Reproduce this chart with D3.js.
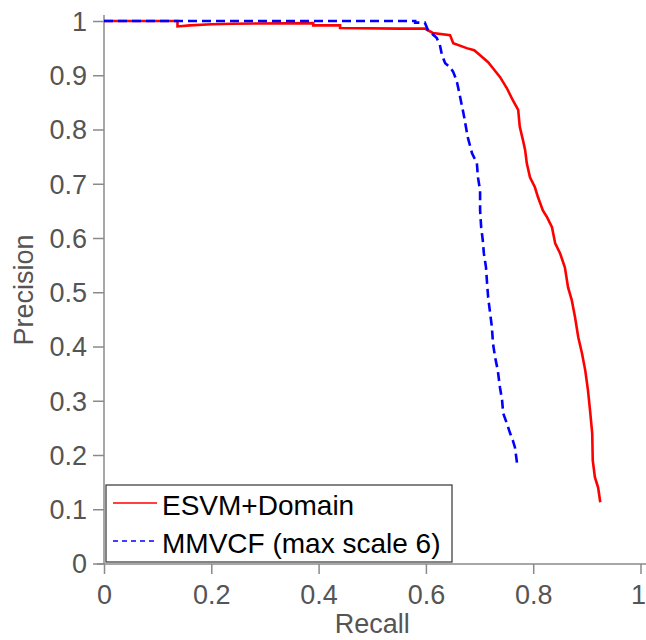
<!DOCTYPE html>
<html>
<head>
<meta charset="utf-8">
<script src="https://cdn.jsdelivr.net/npm/d3@7"></script>
<style>
  body { margin: 0; background: #fff; }
  svg { display: block; font-family: "Liberation Sans", Arial, sans-serif; }
</style>
</head>
<body>
<svg id="chart"></svg>
<script>
// recall / precision pairs
const esvmRecall = [0, 0.137, 0.137, 0.16, 0.2, 0.24, 0.39, 0.39, 0.44, 0.44, 0.55, 0.598, 0.613, 0.645, 0.651, 0.676,
    0.69, 0.701, 0.716, 0.725, 0.738, 0.751, 0.762, 0.772, 0.775, 0.781, 0.785, 0.788, 0.794, 0.803, 0.809, 0.818,
    0.826, 0.835, 0.841, 0.85, 0.859, 0.865, 0.872, 0.878, 0.884, 0.891, 0.897, 0.902, 0.906, 0.91, 0.911, 0.915,
    0.921, 0.925];
const esvmPrecision = [1, 1, 0.99, 0.992, 0.994, 0.995, 0.996, 0.992, 0.992, 0.987, 0.986, 0.986, 0.978, 0.974, 0.959, 0.95,
    0.946, 0.937, 0.924, 0.913, 0.897, 0.876, 0.854, 0.836, 0.805, 0.78, 0.762, 0.738, 0.712, 0.694, 0.675, 0.651,
    0.638, 0.62, 0.59, 0.572, 0.546, 0.509, 0.485, 0.454, 0.417, 0.387, 0.356, 0.32, 0.282, 0.24, 0.19, 0.159,
    0.14, 0.113];

const mmvcfRecall = [0, 0.58, 0.58, 0.598, 0.604, 0.62, 0.626, 0.63, 0.636, 0.645, 0.651, 0.657, 0.66, 0.665, 0.67, 0.678,
    0.686, 0.695, 0.697, 0.701, 0.701, 0.703, 0.706, 0.708, 0.712, 0.714, 0.716, 0.719, 0.723, 0.725, 0.729, 0.734,
    0.738, 0.742, 0.744, 0.751, 0.757, 0.762, 0.766, 0.77];
const mmvcfPrecision = [1, 1, 0.997, 0.997, 0.983, 0.969, 0.956, 0.937, 0.922, 0.915, 0.906, 0.891, 0.878, 0.854, 0.83, 0.786,
    0.756, 0.738, 0.712, 0.688, 0.651, 0.62, 0.596, 0.572, 0.546, 0.517, 0.491, 0.467, 0.436, 0.406, 0.38, 0.356,
    0.325, 0.301, 0.277, 0.258, 0.24, 0.227, 0.214, 0.184];

const xTicks = [0, 0.2, 0.4, 0.6, 0.8, 1];
const xTickLabels = ['0', '0.2', '0.4', '0.6', '0.8', '1'];
const yTicks = [0, 0.1, 0.2, 0.3, 0.4, 0.5, 0.6, 0.7, 0.8, 0.9, 1];
const yTickLabels = ['0', '0.1', '0.2', '0.3', '0.4', '0.5', '0.6', '0.7', '0.8', '0.9', '1'];

const seriesNames = ['ESVM+Domain', 'MMVCF (max scale 6)'];

const width = 646, height = 640;
const margin = { top: 21, right: 5.5, bottom: 76, left: 104 };

const svg = d3.select('#chart')
    .attr('width', width)
    .attr('height', height);

const inner_width = width - margin.left - margin.right;
const inner_height = height - margin.top - margin.bottom;

const chart = svg.append('g')
    .attr('transform', `translate(${margin.left}, ${margin.top})`);

const xscale = d3.scaleLinear().domain([0, 1]).range([0, inner_width]);
const yscale = d3.scaleLinear().domain([0, 1]).range([inner_height - 0.5, 0]);

const axisColor = '#8a8a8a';
const textColor = '#555';

const xaxis = d3.axisBottom(xscale)
    .tickValues(xTicks)
    .tickFormat((d, i) => xTickLabels[i])
    .tickSize(10)
    .tickSizeOuter(0)
    .tickPadding(4);

const yaxis = d3.axisLeft(yscale)
    .tickValues(yTicks)
    .tickFormat((d, i) => yTickLabels[i])
    .tickSize(11)
    .tickSizeOuter(0)
    .tickPadding(6);

const xaxis_group = chart.append('g')
    .attr('transform', `translate(0, ${inner_height})`)
    .call(xaxis);
xaxis_group.select('.domain').attr('d', `M-7,0H${inner_width + 10}`);

const yaxis_group = chart.append('g')
    .call(yaxis);
yaxis_group.select('.domain').attr('d', `M0,-6V${inner_height}`);

[xaxis_group, yaxis_group].forEach(g => {
    g.selectAll('.domain').attr('stroke', axisColor).attr('stroke-width', 1.5);
    g.selectAll('.tick line').attr('stroke', axisColor).attr('stroke-width', 1.5);
    g.selectAll('.tick text')
        .attr('fill', textColor)
        .style('font-size', '27px')
        .style('font-family', '"Liberation Sans", Arial, sans-serif');
});
yaxis_group.selectAll('.tick text').attr('dy', '0.35em');
xaxis_group.selectAll('.tick text').attr('dy', '0.95em');
// keep the last x label inside the page
xaxis_group.selectAll('.tick text').filter(d => d === 1).attr('dx', -2.5);

// curves
const line = d3.line()
    .x(d => xscale(d[0]))
    .y(d => yscale(d[1]));

const esvm = d3.zip(esvmRecall, esvmPrecision);
const mmvcf = d3.zip(mmvcfRecall, mmvcfPrecision);

chart.append('path')
    .attr('d', line(esvm))
    .attr('fill', 'none')
    .attr('stroke', '#ff0000')
    .attr('stroke-width', 2.6)
    .attr('stroke-linejoin', 'miter');

chart.append('path')
    .attr('d', line(mmvcf))
    .attr('fill', 'none')
    .attr('stroke', '#0000ff')
    .attr('stroke-width', 2.6)
    .attr('stroke-dasharray', '9,5');

// axis labels
svg.append('text')
    .attr('x', margin.left + inner_width / 2)
    .attr('y', 633)
    .attr('text-anchor', 'middle')
    .attr('fill', textColor)
    .style('font-size', '27px')
    .text('Recall');

svg.append('text')
    .attr('transform', `translate(33, 290) rotate(-90)`)
    .attr('text-anchor', 'middle')
    .attr('fill', textColor)
    .style('font-size', '27px')
    .text('Precision');

// legend
const legend = svg.append('g').attr('transform', 'translate(106, 485)');
legend.append('rect')
    .attr('width', 346)
    .attr('height', 77)
    .attr('fill', '#fff')
    .attr('stroke', '#333')
    .attr('stroke-width', 1.2);

const legendStyles = [
    { color: '#ff0000', dash: null },
    { color: '#0000ff', dash: '5,4' }
];

seriesNames.forEach((name, i) => {
    const yy = 18 + i * 38;
    legend.append('line')
        .attr('x1', 7).attr('x2', 51)
        .attr('y1', yy).attr('y2', yy)
        .attr('stroke', legendStyles[i].color)
        .attr('stroke-width', 1.5)
        .attr('stroke-dasharray', legendStyles[i].dash);
    legend.append('text')
        .attr('x', 56)
        .attr('y', yy + 12)
        .attr('fill', '#000')
        .style('font-size', '28px')
        .text(name);
});
</script>
</body>
</html>
